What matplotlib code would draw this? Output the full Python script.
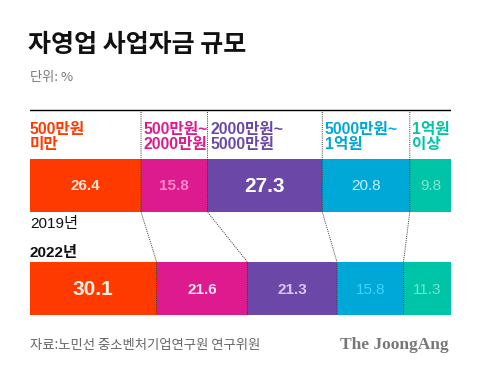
import numpy as np
import matplotlib
matplotlib.use("Agg")
import matplotlib.pyplot as plt

plt.rcParams['font.family'] = ['Liberation Sans', 'Noto Sans CJK KR', 'DejaVu Sans']

categories = ["500만원\n미만", "500만원~\n2000만원", "2000만원~\n5000만원", "5000만원~\n1억원", "1억원\n이상"]
years = ["2019년", "2022년"]
v2019 = [26.4, 15.8, 27.3, 20.8, 9.8]
v2022 = [30.1, 21.6, 21.3, 15.8, 11.3]

colors = ["#FF3A00", "#DD1A8E", "#6B48A8", "#00A8D8", "#00C4A8"]
txt2019 = ["#FFE8DA", "#FF8ACB", "#FFFFFF", "#C4F0FF", "#86E4CE"]
txt2022 = ["#FFF0E4", "#FFE2F2", "#D8C8F0", "#40D4F6", "#78E2CC"]
size2019 = [11, 11, 15, 11, 11]
size2022 = [15, 11, 11, 11, 11]
bold2019 = ["bold", "bold", "bold", "normal", "normal"]
bold2022 = ["bold", "bold", "bold", "normal", "normal"]

W, H = 480, 372
fig = plt.figure(figsize=(4.8, 3.72), dpi=100)
fig.patch.set_facecolor("white")

total = max(sum(v2019), sum(v2022))
ax = fig.add_axes([30 / W, 0, 421 / W, 1])
ax.set_xlim(0, total)
ax.set_ylim(H, 0)
ax.axis("off")

# title
fig.text(28 / W, 1 - 45 / H, "자영업 사업자금 규모", fontsize=18, fontweight="black",
         family=['Noto Sans CJK KR'], va="center", ha="left", color="#111111")
fig.text(30 / W, 1 - 78 / H, "단위: %", fontsize=9.5, family=['Noto Sans CJK KR'],
         va="center", ha="left", color="#777777")

# top rule
ax.plot([0, 100 * 420 / 421], [110, 110], color="black", lw=1)

left19 = np.concatenate([[0], np.cumsum(v2019)[:-1]])
left22 = np.concatenate([[0], np.cumsum(v2022)[:-1]])

y19_top, y19_bot = 159, 212
y22_top, y22_bot = 262, 315

ax.barh((y19_top + y19_bot) / 2, v2019, left=left19, height=y19_bot - y19_top,
        color=colors, edgecolor="none")
ax.barh((y22_top + y22_bot) / 2, v2022, left=left22, height=y22_bot - y22_top,
        color=colors, edgecolor="none")

for i in range(5):
    ax.text(left19[i] + v2019[i] / 2, (y19_top + y19_bot) / 2 + 1, f"{v2019[i]}",
            ha="center", va="center", color=txt2019[i], fontsize=size2019[i],
            fontweight=bold2019[i])
    ax.text(left22[i] + v2022[i] / 2, (y22_top + y22_bot) / 2 + 1, f"{v2022[i]}",
            ha="center", va="center", color=txt2022[i], fontsize=size2022[i],
            fontweight=bold2022[i])
    off = 0 if i == 0 else 0.6
    ax.text(left19[i] + off, 137, categories[i], ha="left", va="center",
            color=colors[i], fontsize=11.3, fontweight="bold", linespacing=1.0,
            family=['Liberation Sans', 'Noto Sans CJK KR'])

# dotted connectors
for b19, b22 in zip(left19[1:], left22[1:]):
    ax.plot([b19, b19, b22, b22], [112, y19_bot, y22_top, y22_bot],
            color="#333333", lw=0.7, ls=(0, (1, 1.2)), zorder=5)

ax.text(0, 224, years[0], ha="left", va="center", fontsize=11, color="#111111")
ax.text(0, 253, years[1], ha="left", va="center", fontsize=11, fontweight="bold",
        color="#111111")

# footer
fig.text(30 / W, 1 - 345 / H, "자료:노민선 중소벤처기업연구원 연구위원", fontsize=9.6,
         family=['Noto Sans CJK KR'], va="center", ha="left", color="#666666")
fig.text(449 / W, 1 - 345 / H, "The JoongAng", fontsize=12.5, fontweight="bold",
         family=['Liberation Serif'], va="center", ha="right", color="#777777")

fig.savefig("out.png", dpi=100, facecolor="white")
